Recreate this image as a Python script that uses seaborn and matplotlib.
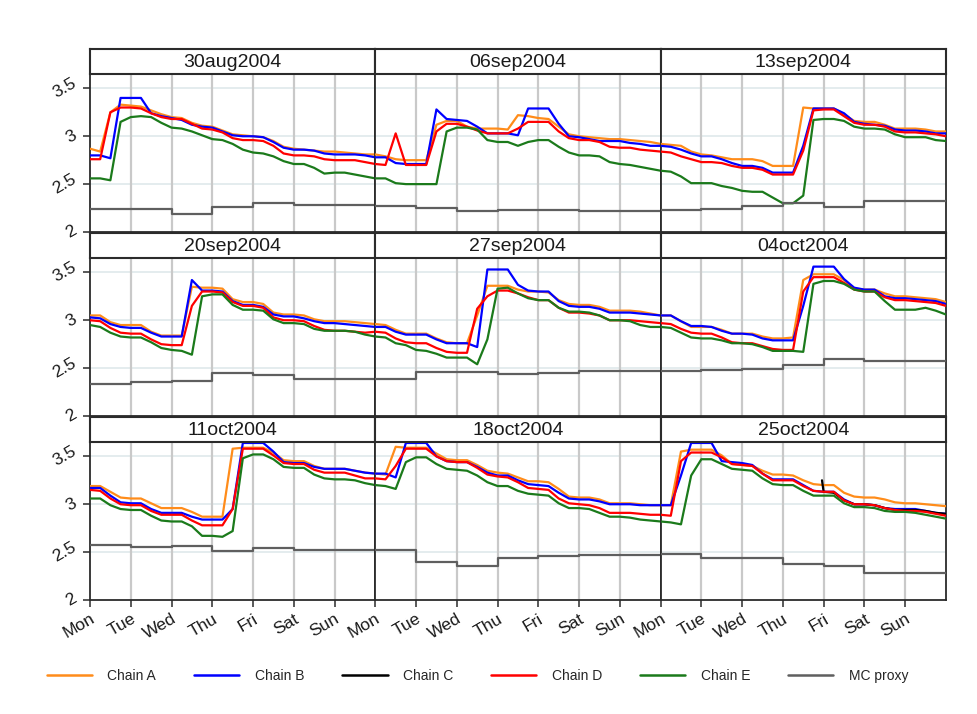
import numpy as np
import pandas as pd
import matplotlib
matplotlib.use("Agg")
import matplotlib.pyplot as plt
import seaborn as sns
from matplotlib.lines import Line2D

sns.set_theme(style="white")
plt.rcParams["font.family"] = ["Liberation Sans", "DejaVu Sans"]

# ---------------- data ----------------
weeks = ["30aug2004", "06sep2004", "13sep2004",
         "20sep2004", "27sep2004", "04oct2004",
         "11oct2004", "18oct2004", "25oct2004"]
day_labels = ["Mon", "Tue", "Wed", "Thu", "Fri", "Sat", "Sun"]
series_names = ["Chain A", "Chain B", "Chain C", "Chain D", "Chain E", "MC proxy"]
series_colors = ["#ff8c1a", "#0000ff", "#000000", "#ff0000", "#1b7a1b", "#5f5f5f"]
y_ticks = [2, 2.5, 3, 3.5]

# prices every 6 hours (4 per day, 28 per week), last value closes the final week
chain_a = [
    # 30aug2004
    2.87, 2.84, 3.25, 3.33, 3.32, 3.31, 3.27, 3.23, 3.20, 3.19, 3.14, 3.11, 3.10, 3.06,
    3.02, 3.01, 3.00, 2.99, 2.95, 2.89, 2.87, 2.86, 2.85, 2.84, 2.84, 2.83, 2.82, 2.81,
    # 06sep2004
    2.81, 2.79, 2.76, 2.75, 2.75, 2.75, 3.12, 3.16, 3.16, 3.10, 3.08, 3.08, 3.08, 3.07,
    3.22, 3.21, 3.19, 3.18, 3.10, 3.02, 3.00, 2.99, 2.98, 2.97, 2.97, 2.96, 2.95, 2.94,
    # 13sep2004
    2.92, 2.91, 2.90, 2.84, 2.81, 2.80, 2.78, 2.76, 2.76, 2.76, 2.74, 2.69, 2.69, 2.69,
    3.30, 3.29, 3.29, 3.29, 3.23, 3.16, 3.15, 3.15, 3.12, 3.08, 3.08, 3.08, 3.07, 3.05,
    # 20sep2004
    3.05, 3.05, 2.98, 2.95, 2.95, 2.95, 2.88, 2.84, 2.84, 2.84, 3.35, 3.34, 3.34, 3.33,
    3.22, 3.19, 3.19, 3.17, 3.08, 3.06, 3.06, 3.05, 3.01, 2.99, 2.99, 2.99, 2.98, 2.97,
    # 27sep2004
    2.96, 2.95, 2.90, 2.86, 2.86, 2.86, 2.81, 2.77, 2.76, 2.76, 3.05, 3.36, 3.36, 3.36,
    3.32, 3.30, 3.30, 3.29, 3.21, 3.17, 3.16, 3.16, 3.14, 3.10, 3.10, 3.10, 3.09, 3.07,
    # 04oct2004
    3.05, 3.05, 2.99, 2.93, 2.93, 2.93, 2.90, 2.86, 2.86, 2.86, 2.83, 2.81, 2.81, 2.82,
    3.42, 3.48, 3.48, 3.48, 3.42, 3.33, 3.32, 3.32, 3.28, 3.25, 3.25, 3.24, 3.23, 3.22,
    # 11oct2004
    3.19, 3.19, 3.13, 3.07, 3.06, 3.06, 3.01, 2.96, 2.96, 2.96, 2.92, 2.87, 2.87, 2.87,
    3.58, 3.59, 3.59, 3.59, 3.54, 3.46, 3.45, 3.45, 3.40, 3.37, 3.37, 3.37, 3.35, 3.33,
    # 18oct2004
    3.32, 3.31, 3.60, 3.59, 3.59, 3.59, 3.53, 3.47, 3.46, 3.46, 3.41, 3.35, 3.33, 3.32,
    3.28, 3.24, 3.24, 3.23, 3.16, 3.08, 3.07, 3.07, 3.05, 3.01, 3.01, 3.01, 3.00, 2.99,
    # 25oct2004
    2.99, 2.99, 3.55, 3.57, 3.57, 3.57, 3.51, 3.42, 3.41, 3.40, 3.35, 3.31, 3.31, 3.30,
    3.25, 3.21, 3.20, 3.20, 3.12, 3.08, 3.07, 3.07, 3.05, 3.02, 3.01, 3.01, 3.00, 2.99,
    2.98,
]
chain_b = [
    2.80, 2.80, 2.77, 3.40, 3.40, 3.40, 3.24, 3.21, 3.19, 3.17, 3.12, 3.10, 3.09, 3.05,
    3.01, 3.00, 3.00, 2.99, 2.94, 2.88, 2.86, 2.86, 2.85, 2.82, 2.81, 2.81, 2.81, 2.80,
    2.78, 2.78, 2.72, 2.71, 2.71, 2.71, 3.28, 3.18, 3.17, 3.16, 3.10, 3.03, 3.03, 3.03,
    3.01, 3.29, 3.29, 3.29, 3.13, 3.00, 2.99, 2.97, 2.95, 2.95, 2.95, 2.93, 2.92, 2.90,
    2.90, 2.89, 2.86, 2.82, 2.79, 2.79, 2.76, 2.72, 2.69, 2.69, 2.67, 2.62, 2.62, 2.62,
    2.90, 3.29, 3.29, 3.29, 3.24, 3.15, 3.13, 3.12, 3.11, 3.07, 3.06, 3.06, 3.05, 3.03,
    3.03, 3.02, 2.96, 2.93, 2.92, 2.92, 2.87, 2.83, 2.83, 2.83, 3.42, 3.31, 3.31, 3.30,
    3.20, 3.16, 3.16, 3.14, 3.06, 3.04, 3.04, 3.02, 2.99, 2.97, 2.97, 2.96, 2.95, 2.94,
    2.93, 2.93, 2.88, 2.85, 2.85, 2.85, 2.80, 2.76, 2.76, 2.76, 2.72, 3.53, 3.53, 3.53,
    3.37, 3.31, 3.30, 3.30, 3.20, 3.15, 3.14, 3.14, 3.12, 3.08, 3.08, 3.08, 3.07, 3.06,
    3.05, 3.05, 2.99, 2.94, 2.94, 2.93, 2.89, 2.86, 2.86, 2.85, 2.81, 2.79, 2.79, 2.79,
    3.15, 3.56, 3.56, 3.56, 3.43, 3.34, 3.32, 3.32, 3.25, 3.23, 3.23, 3.22, 3.21, 3.20,
    3.17, 3.17, 3.09, 3.02, 3.01, 3.01, 2.95, 2.91, 2.91, 2.91, 2.87, 2.84, 2.84, 2.84,
    2.95, 3.64, 3.64, 3.64, 3.55, 3.44, 3.43, 3.43, 3.39, 3.37, 3.37, 3.37, 3.35, 3.33,
    3.32, 3.32, 3.28, 3.64, 3.64, 3.64, 3.50, 3.45, 3.44, 3.44, 3.39, 3.33, 3.30, 3.30,
    3.25, 3.21, 3.20, 3.19, 3.12, 3.06, 3.05, 3.05, 3.03, 3.00, 3.00, 3.00, 2.99, 2.99,
    2.99, 2.99, 3.30, 3.64, 3.64, 3.64, 3.45, 3.44, 3.43, 3.41, 3.32, 3.26, 3.26, 3.26,
    3.20, 3.14, 3.13, 3.13, 3.05, 3.00, 3.00, 2.99, 2.96, 2.95, 2.95, 2.95, 2.93, 2.91,
    2.90,
]
chain_d = [
    2.76, 2.76, 3.25, 3.30, 3.30, 3.29, 3.24, 3.20, 3.18, 3.18, 3.13, 3.08, 3.07, 3.04,
    2.98, 2.96, 2.96, 2.95, 2.90, 2.82, 2.80, 2.80, 2.79, 2.76, 2.75, 2.75, 2.75, 2.73,
    2.71, 2.70, 3.03, 2.70, 2.70, 2.70, 3.05, 3.13, 3.13, 3.10, 3.06, 3.03, 3.03, 3.03,
    3.08, 3.15, 3.15, 3.15, 3.05, 2.98, 2.96, 2.96, 2.94, 2.89, 2.88, 2.88, 2.86, 2.85,
    2.84, 2.83, 2.79, 2.76, 2.73, 2.73, 2.72, 2.69, 2.67, 2.67, 2.65, 2.60, 2.60, 2.60,
    2.85, 3.27, 3.28, 3.28, 3.21, 3.14, 3.12, 3.12, 3.10, 3.05, 3.04, 3.04, 3.03, 3.02,
    3.00, 2.99, 2.92, 2.87, 2.86, 2.86, 2.80, 2.75, 2.74, 2.74, 3.15, 3.30, 3.30, 3.29,
    3.19, 3.15, 3.15, 3.13, 3.03, 3.00, 3.00, 2.99, 2.94, 2.90, 2.89, 2.89, 2.88, 2.87,
    2.88, 2.87, 2.81, 2.77, 2.76, 2.76, 2.71, 2.67, 2.66, 2.66, 3.12, 3.25, 3.31, 3.31,
    3.28, 3.24, 3.21, 3.21, 3.13, 3.08, 3.08, 3.07, 3.05, 3.00, 3.00, 3.00, 2.99, 2.98,
    2.97, 2.96, 2.91, 2.87, 2.86, 2.86, 2.82, 2.77, 2.76, 2.76, 2.73, 2.70, 2.69, 2.69,
    3.30, 3.45, 3.45, 3.45, 3.39, 3.32, 3.30, 3.30, 3.24, 3.21, 3.21, 3.20, 3.19, 3.18,
    3.15, 3.14, 3.06, 3.00, 2.99, 2.99, 2.93, 2.89, 2.89, 2.89, 2.83, 2.78, 2.78, 2.78,
    2.95, 3.58, 3.58, 3.58, 3.51, 3.43, 3.42, 3.42, 3.36, 3.33, 3.33, 3.33, 3.30, 3.27,
    3.27, 3.26, 3.40, 3.58, 3.58, 3.58, 3.50, 3.45, 3.44, 3.44, 3.38, 3.31, 3.29, 3.28,
    3.23, 3.17, 3.16, 3.15, 3.06, 3.01, 3.00, 2.99, 2.96, 2.91, 2.91, 2.91, 2.90, 2.89,
    2.89, 2.88, 3.45, 3.54, 3.54, 3.54, 3.49, 3.42, 3.41, 3.40, 3.32, 3.25, 3.25, 3.25,
    3.19, 3.14, 3.13, 3.13, 3.04, 3.00, 3.00, 2.99, 2.96, 2.94, 2.93, 2.93, 2.92, 2.90,
    2.88,
]
chain_e = [
    2.56, 2.56, 2.54, 3.15, 3.20, 3.21, 3.20, 3.14, 3.09, 3.08, 3.05, 3.01, 2.97, 2.96,
    2.92, 2.86, 2.83, 2.82, 2.79, 2.74, 2.71, 2.71, 2.67, 2.61, 2.62, 2.62, 2.60, 2.58,
    2.56, 2.56, 2.51, 2.50, 2.50, 2.50, 2.50, 3.05, 3.09, 3.09, 3.07, 2.96, 2.94, 2.94,
    2.90, 2.94, 2.96, 2.96, 2.89, 2.83, 2.80, 2.80, 2.79, 2.73, 2.71, 2.70, 2.68, 2.66,
    2.64, 2.63, 2.58, 2.51, 2.51, 2.51, 2.48, 2.46, 2.43, 2.42, 2.42, 2.36, 2.30, 2.30,
    2.38, 3.17, 3.18, 3.18, 3.16, 3.10, 3.08, 3.08, 3.07, 3.02, 2.99, 2.99, 2.99, 2.96,
    2.95, 2.93, 2.87, 2.83, 2.82, 2.82, 2.77, 2.71, 2.69, 2.68, 2.64, 3.25, 3.27, 3.27,
    3.16, 3.11, 3.11, 3.10, 3.01, 2.97, 2.97, 2.96, 2.91, 2.89, 2.89, 2.89, 2.88, 2.85,
    2.83, 2.82, 2.76, 2.74, 2.69, 2.68, 2.65, 2.61, 2.61, 2.61, 2.54, 2.80, 3.33, 3.34,
    3.28, 3.23, 3.21, 3.21, 3.13, 3.09, 3.09, 3.08, 3.05, 3.00, 3.00, 2.99, 2.95, 2.93,
    2.93, 2.92, 2.87, 2.82, 2.81, 2.81, 2.79, 2.76, 2.76, 2.75, 2.72, 2.68, 2.68, 2.68,
    2.67, 3.38, 3.41, 3.41, 3.38, 3.32, 3.30, 3.30, 3.20, 3.11, 3.11, 3.11, 3.13, 3.10,
    3.06, 3.06, 2.99, 2.95, 2.94, 2.94, 2.88, 2.83, 2.82, 2.82, 2.77, 2.67, 2.67, 2.66,
    2.72, 3.48, 3.52, 3.52, 3.47, 3.39, 3.38, 3.38, 3.31, 3.27, 3.26, 3.26, 3.25, 3.22,
    3.20, 3.19, 3.16, 3.44, 3.49, 3.49, 3.42, 3.37, 3.36, 3.35, 3.30, 3.23, 3.19, 3.19,
    3.14, 3.11, 3.10, 3.09, 3.01, 2.96, 2.96, 2.95, 2.91, 2.87, 2.87, 2.86, 2.84, 2.83,
    2.82, 2.81, 2.79, 3.30, 3.47, 3.47, 3.42, 3.37, 3.36, 3.35, 3.27, 3.21, 3.20, 3.20,
    3.14, 3.09, 3.09, 3.09, 3.01, 2.97, 2.97, 2.96, 2.93, 2.92, 2.92, 2.91, 2.89, 2.87,
    2.85,
]
# Chain C only reported late in the last week (day within week, price)
chain_c_week = "25oct2004"
chain_c_day = [3.96, 4.0, 4.25, 4.5, 4.75, 5.0, 5.25, 5.5, 5.75, 6.0, 6.25, 6.5, 6.75, 7.0]
chain_c = [3.25, 3.13, 3.12, 3.04, 3.00, 3.00, 2.99, 2.96, 2.94, 2.94, 2.94, 2.93, 2.91, 2.90]
# daily marginal cost proxy (Mon..Sun for each week)
mc_proxy = [
    2.24, 2.24, 2.19, 2.26, 2.30, 2.28, 2.28,
    2.27, 2.25, 2.22, 2.23, 2.23, 2.22, 2.22,
    2.23, 2.24, 2.27, 2.30, 2.26, 2.32, 2.32,
    2.33, 2.36, 2.37, 2.45, 2.43, 2.39, 2.39,
    2.39, 2.46, 2.46, 2.44, 2.45, 2.47, 2.47,
    2.47, 2.48, 2.49, 2.53, 2.60, 2.57, 2.57,
    2.57, 2.55, 2.56, 2.51, 2.54, 2.52, 2.52,
    2.52, 2.40, 2.36, 2.44, 2.46, 2.47, 2.47,
    2.48, 2.44, 2.44, 2.38, 2.36, 2.28, 2.28,
]

# ---------------- tidy table ----------------
PER_DAY = 4
PER_WEEK = 7 * PER_DAY
rows = []
for name, vals in [("Chain A", chain_a), ("Chain B", chain_b),
                   ("Chain D", chain_d), ("Chain E", chain_e)]:
    for w, wk in enumerate(weeks):
        seg = vals[w * PER_WEEK: w * PER_WEEK + PER_WEEK + 1]
        for i, v in enumerate(seg):
            rows.append((wk, name, i / PER_DAY, v))
for d, v in zip(chain_c_day, chain_c):
    rows.append((chain_c_week, "Chain C", d, v))
df = pd.DataFrame(rows, columns=["week", "series", "day", "price"])

mc_rows = []
for w, wk in enumerate(weeks):
    seg = mc_proxy[w * 7:(w + 1) * 7]
    for d, v in enumerate(seg):
        mc_rows.append((wk, d, v))
    mc_rows.append((wk, 7, seg[-1]))
mc_df = pd.DataFrame(mc_rows, columns=["week", "day", "price"])

palette = dict(zip(series_names, series_colors))

# ---------------- layout ----------------
W, H = 977, 714
fig = plt.figure(figsize=(W / 100, H / 100), dpi=100)
fig.patch.set_facecolor("white")

col_left = [90, 375.3, 660.6]
col_w = 285.3
row_top = [74, 258, 442]
plot_h = 158
strip_h = 25

frame_col = "#2b2b2b"
LW = 1.6

for idx, wk in enumerate(weeks):
    r, c = divmod(idx, 3)
    x0 = col_left[c] / W
    y0 = 1 - (row_top[r] + plot_h) / H
    ax = fig.add_axes([x0, y0, col_w / W, plot_h / H])
    ax.set_facecolor("white")

    # grid
    for yv in [2.5, 3, 3.5]:
        ax.axhline(yv, color="#e4ecee", lw=1.4, zorder=0)
    for dv in range(1, 7):
        ax.axvline(dv, color="#c9c9c9", lw=1.6, zorder=0.5)

    sub = df[df["week"] == wk]
    for name in ["Chain A", "Chain B", "Chain C", "Chain D", "Chain E"]:
        s = sub[sub["series"] == name]
        if len(s) == 0:
            continue
        sns.lineplot(data=s, x="day", y="price", color=palette[name], lw=LW,
                     ax=ax, legend=False, estimator=None, sort=True, zorder=3)
    m = mc_df[mc_df["week"] == wk]
    sns.lineplot(data=m, x="day", y="price", color=palette["MC proxy"], lw=LW,
                 ax=ax, legend=False, estimator=None, drawstyle="steps-post", zorder=3)

    ax.set_xlim(0, 7)
    ax.set_ylim(2, 3.65)
    ax.set_xlabel("")
    ax.set_ylabel("")
    for sp in ax.spines.values():
        sp.set_visible(True)
        sp.set_color(frame_col)
        sp.set_linewidth(1.3)

    ax.set_xticks(range(7))
    if r == 2:
        ax.set_xticklabels(day_labels, rotation=30, ha="right",
                           rotation_mode="anchor", fontsize=12.5, color="#1a1a1a")
        ax.tick_params(axis="x", direction="out", length=5, width=1.1,
                       color=frame_col, pad=3, bottom=True)
    else:
        ax.set_xticklabels([])
        ax.tick_params(axis="x", length=0)

    ax.set_yticks(y_ticks)
    if c == 0:
        ax.set_yticklabels([f"{v:g}" for v in y_ticks], rotation=30,
                           fontsize=12.5, color="#1a1a1a", va="center")
        ax.tick_params(axis="y", direction="out", length=5, width=1.1,
                       color=frame_col, pad=3, left=True)
    else:
        ax.set_yticklabels([])
        ax.tick_params(axis="y", length=0)

    # strip
    sax = fig.add_axes([x0, 1 - row_top[r] / H, col_w / W, strip_h / H])
    sax.set_facecolor("white")
    sax.set_xticks([])
    sax.set_yticks([])
    for sp in sax.spines.values():
        sp.set_visible(True)
        sp.set_color(frame_col)
        sp.set_linewidth(1.5)
    sax.text(0.5, 0.47, wk, ha="center", va="center", fontsize=14,
             color="#1a1a1a", transform=sax.transAxes)

# legend
handles = [Line2D([0], [0], color=col, lw=1.8) for col in series_colors]
fig.legend(handles, series_names, loc="center left",
           bbox_to_anchor=(47 / W, 1 - 676 / H), ncol=6, frameon=False,
           fontsize=10, handlelength=3.25, handletextpad=1.1,
           columnspacing=2.75, borderpad=0, borderaxespad=0)

fig.savefig("out.png", dpi=100, facecolor="white")
